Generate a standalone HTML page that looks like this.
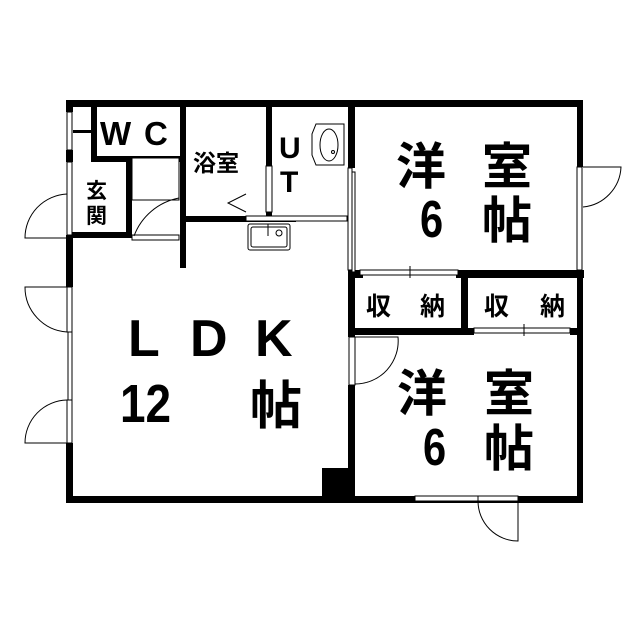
<!DOCTYPE html>
<html><head><meta charset="utf-8"><style>
html,body{margin:0;padding:0;background:#fff;}
svg{display:block}
text{font-family:"Liberation Sans","Noto Sans CJK JP",sans-serif;fill:#000;font-weight:bold}
</style></head><body>
<svg width="640" height="640" viewBox="0 0 640 640" xmlns="http://www.w3.org/2000/svg">
<g fill="#000">
<rect x="66" y="100" width="517" height="7"/>
<rect x="66" y="496" width="517" height="7"/>
<rect x="66" y="100" width="7" height="12"/>
<rect x="66" y="150" width="7" height="12"/>
<rect x="66" y="235" width="7" height="52"/>
<rect x="66" y="443" width="7" height="60"/>
<rect x="577" y="100" width="6" height="67"/>
<rect x="577" y="270" width="6" height="233"/>
<rect x="91" y="100" width="6" height="62"/>
<rect x="91" y="156" width="95" height="6"/>
<rect x="73" y="130" width="20" height="3"/>
<rect x="72" y="232" width="60" height="6"/>
<rect x="126" y="156" width="6" height="82"/>
<rect x="180" y="100" width="6" height="168"/>
<rect x="266" y="100" width="6" height="66"/>
<rect x="266" y="212" width="6" height="10"/>
<rect x="186" y="216" width="110" height="6"/>
<rect x="348" y="100" width="7" height="68"/>
<rect x="355" y="270" width="8" height="8"/>
<rect x="456" y="270" width="128" height="8"/>
<rect x="348" y="270" width="7" height="67"/>
<rect x="461" y="270" width="7" height="65"/>
<rect x="348" y="328" width="126" height="7"/>
<rect x="570" y="328" width="8" height="7"/>
<rect x="348" y="385" width="7" height="118"/>
<rect x="322" y="468" width="33" height="35"/>
</g>
<g fill="#fff" stroke="#000" stroke-width="1">
<rect x="67" y="112" width="5" height="38"/>
<rect x="67" y="162" width="5" height="73"/>
<rect x="67" y="287" width="5" height="45"/>
<rect x="68" y="332" width="4" height="68"/>
<rect x="67" y="400" width="5" height="43"/>
<rect x="132" y="158" width="47" height="42"/>
<rect x="132" y="235" width="47" height="5"/>
<rect x="266" y="166" width="6" height="46"/>
<rect x="246" y="216" width="101" height="5"/>
<rect x="348" y="168" width="4" height="102"/>
<rect x="352" y="172" width="3" height="100"/>
<rect x="577" y="167" width="5" height="103"/>
<rect x="360" y="270" width="98" height="5"/>
<rect x="474" y="328" width="96" height="5"/>
<rect x="349" y="337" width="6" height="48"/>
<rect x="415" y="496" width="63" height="5"/>
<rect x="478" y="496" width="40" height="5"/>
</g>
<g fill="none" stroke="#000" stroke-width="1">
<line x1="410" y1="266" x2="410" y2="278"/>
<line x1="524" y1="324" x2="524" y2="336"/>
<path d="M67 238 L25 238 A44 44 0 0 1 67 194"/>
<path d="M132 200 L179 200 L179 162"/>
<path d="M134 236 A60 60 0 0 1 179 198"/>
<path d="M246 212 L228 203 L246 194"/>
<path d="M67 287 L25 287 A45 45 0 0 0 67 332"/>
<path d="M67 443 L25 443 A43 43 0 0 1 67 400"/>
<path d="M355 337 L398 337 A43 43 0 0 1 355 384"/>
<path d="M583 207 A42 42 0 0 0 621 167 L583 167"/>
<path d="M478 501 A40 40 0 0 0 518 541 L518 501"/>
<rect x="248" y="224" width="42" height="26" rx="2"/>
<rect x="251" y="227" width="36" height="20" rx="2"/>
<line x1="268" y1="224" x2="268" y2="236"/>
<circle cx="279" cy="233" r="3"/>
<path d="M316 124 L344 124 L344 165 L316 165 L312 155 L312 134 Z"/>
<ellipse cx="329" cy="145" rx="9" ry="16"/>
<circle cx="333" cy="152" r="1.5"/>
</g>
<text x="100" y="145" font-size="33">W</text>
<text x="144" y="145" font-size="33">C</text>
<text x="193" y="171" font-size="23">浴室</text>
<text x="279" y="158" font-size="30">U</text>
<text x="280" y="192" font-size="30">T</text>
<text x="86" y="198" font-size="21">玄</text>
<text x="86" y="223" font-size="21">関</text>
<text x="396" y="184" font-size="50">洋</text>
<text x="482" y="184" font-size="50">室</text>
<text x="420" y="237" font-size="52" transform="translate(420 237) scale(0.8 1) translate(-420 -237)">6</text>
<text x="482" y="238" font-size="50">帖</text>
<text x="128" y="356" font-size="52">L</text>
<text x="190" y="356" font-size="52">D</text>
<text x="255" y="356" font-size="52">K</text>
<text x="120" y="422" font-size="54" transform="translate(120 422) scale(0.85 1) translate(-120 -422)">12</text>
<text x="250" y="424" font-size="52">帖</text>
<text x="366" y="315" font-size="25">収</text>
<text x="420" y="315" font-size="25">納</text>
<text x="484" y="315" font-size="25">収</text>
<text x="540" y="315" font-size="25">納</text>
<text x="397" y="411" font-size="50">洋</text>
<text x="484" y="411" font-size="50">室</text>
<text x="423" y="465" font-size="52" transform="translate(423 465) scale(0.8 1) translate(-423 -465)">6</text>
<text x="484" y="466" font-size="50">帖</text>
</svg>
</body></html>
